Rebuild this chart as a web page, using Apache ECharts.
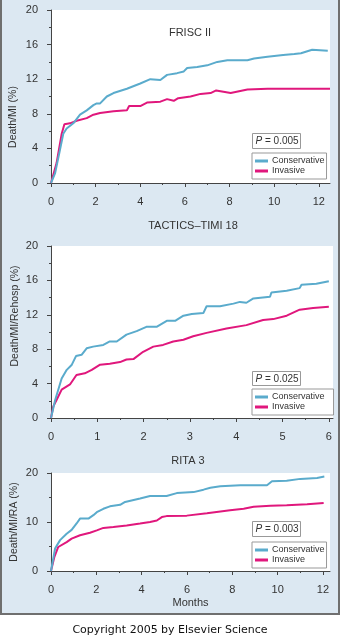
<!DOCTYPE html>
<html>
<head>
<meta charset="utf-8">
<script src="https://cdn.jsdelivr.net/npm/echarts@6/dist/echarts.min.js"></script>
<style>
html,body{margin:0;padding:0;background:#fff;}
#chart{width:341px;height:636px;}
</style>
</head>
<body>
<div id="chart"></div>
<script>
// ---- data (months, % event rate) ----
const panelTitles = ['FRISC II', 'TACTICS\u2013TIMI 18', 'RITA 3'];
const yAxisNames = ['Death/MI (%)', 'Death/MI/Rehosp (%)', 'Death/MI/RA (%)'];
const pValues = ['0.005', '0.025', '0.003'];
const seriesNames = ['Conservative', 'Invasive'];

const friscConservative = [[0,0],[0.18,1.1],[0.4,3.8],[0.55,5.7],[0.7,6.3],[1.0,6.9],[1.3,7.9],[1.6,8.4],[1.9,9.0],[2.05,9.2],[2.2,9.2],[2.5,10.0],[2.8,10.4],[3.4,10.9],[4.0,11.5],[4.45,12.0],[4.9,11.9],[5.2,12.5],[5.65,12.7],[5.95,12.9],[6.1,13.3],[6.55,13.4],[7.0,13.6],[7.45,14.0],[7.9,14.2],[8.8,14.2],[9.1,14.4],[9.7,14.6],[10.4,14.8],[10.9,14.9],[11.2,15.0],[11.7,15.4],[12.4,15.3]];
const friscInvasive = [[0,0],[0.25,2.3],[0.48,5.7],[0.6,6.8],[0.85,6.9],[1.15,7.2],[1.6,7.5],[1.9,7.9],[2.2,8.1],[2.8,8.3],[3.4,8.4],[3.5,8.9],[4.0,8.9],[4.3,9.3],[4.9,9.4],[5.2,9.7],[5.5,9.5],[5.7,9.8],[6.25,10.0],[6.7,10.3],[7.15,10.4],[7.4,10.7],[8.05,10.4],[8.8,10.8],[9.7,10.9],[10.4,10.9],[12.5,10.9]];

const tacticsConservative = [[0,0],[0.09,2.1],[0.23,4.6],[0.34,5.6],[0.45,6.2],[0.54,7.2],[0.66,7.35],[0.77,8.1],[0.91,8.3],[1.13,8.5],[1.27,8.9],[1.42,8.9],[1.63,9.7],[1.85,10.1],[2.06,10.6],[2.28,10.6],[2.5,11.3],[2.68,11.3],[2.86,11.9],[3.04,12.1],[3.29,12.2],[3.36,13.0],[3.65,13.0],[3.94,13.3],[4.08,13.5],[4.22,13.4],[4.37,13.9],[4.73,14.1],[4.76,14.6],[5.09,14.8],[5.37,15.1],[5.41,15.5],[5.73,15.6],[6.0,15.9]];
const tacticsInvasive = [[0,0],[0.05,1.35],[0.12,2.1],[0.23,3.3],[0.41,3.9],[0.55,5.0],[0.73,5.2],[0.88,5.6],[1.06,6.2],[1.27,6.3],[1.49,6.5],[1.63,6.8],[1.78,6.85],[1.99,7.7],[2.21,8.3],[2.42,8.5],[2.64,8.9],[2.86,9.1],[3.07,9.5],[3.36,9.9],[3.79,10.4],[4.22,10.8],[4.58,11.4],[4.8,11.5],[5.09,11.9],[5.37,12.6],[5.66,12.8],[6.0,12.95]];

const ritaConservative = [[0,0],[0.18,4.6],[0.4,6.3],[0.69,7.6],[0.91,8.4],[1.13,9.7],[1.28,10.7],[1.65,10.7],[1.87,11.4],[2.02,12.0],[2.31,12.7],[2.6,13.2],[3.05,13.5],[3.27,14.1],[3.93,14.8],[4.37,15.3],[5.1,15.3],[5.55,15.9],[6.29,16.1],[6.73,16.6],[7.03,17.0],[7.47,17.3],[8.35,17.5],[9.53,17.5],[9.75,18.3],[10.4,18.4],[11.0,18.8],[11.74,19.0],[12.06,19.3]];
const ritaInvasive = [[0,0],[0.15,2.9],[0.32,4.9],[0.69,5.9],[0.91,6.6],[1.28,7.3],[1.72,7.8],[2.02,8.3],[2.31,8.8],[2.75,9.0],[3.34,9.3],[3.93,9.7],[4.37,10.0],[4.67,10.3],[4.89,11.0],[5.1,11.2],[5.99,11.3],[6.88,11.8],[7.9,12.4],[8.5,12.7],[8.94,13.1],[9.68,13.3],[10.4,13.4],[11.3,13.6],[12.03,13.9]];

// tick values
const xMajorTicks12 = [0,2,4,6,8,10,12];
const xMinorTicks12 = [1,3,5,7,9,11];
const xMajorTicks6 = [0,1,2,3,4,5,6];
const xMinorTicks6 = [0.5,1.5,2.5,3.5,4.5,5.5];
const yMajorTicks20by4 = [0,4,8,12,16,20];
const yMinorTicks20by4 = [2,6,10,14,18];
const yMajorTicks20by10 = [0,10,20];
const yMinorTicks20by10 = [5,15];

// ---- layout/styles ----
const FONT = '"Liberation Sans", Arial, Helvetica, sans-serif';
const AX = '#444';
const LBL = '#333';
const C_CONS = '#5aabcc';
const C_INV = '#e0177c';

const panels = [
  {grid:{left:51, top:10, width:279, height:173}, xMax:12.5, xMaj:xMajorTicks12, xMin:xMinorTicks12, yMaj:yMajorTicks20by4, yMin:yMinorTicks20by4, data:[friscConservative, friscInvasive]},
  {grid:{left:51, top:246, width:282, height:172}, xMax:6.09, xMaj:xMajorTicks6, xMin:xMinorTicks6, yMaj:yMajorTicks20by4, yMin:yMinorTicks20by4, data:[tacticsConservative, tacticsInvasive]},
  {grid:{left:51, top:473, width:279, height:98}, xMax:12.31, xMaj:xMajorTicks12, xMin:xMinorTicks12, yMaj:yMajorTicks20by10, yMin:yMinorTicks20by10, data:[ritaConservative, ritaInvasive]}
];
const pBox = [[252, 133, 15], [252, 371, 14], [252, 521, 15]];
const legendBox = [[252, 153, 2], [252, 389, 9], [252, 542, 2]];
const titlePos = [[190, 33], [193, 226], [188, 461]];
const yNamePos = [[13, 117], [15, 316], [14.5, 522]];

const grids = [], xAxes = [], yAxes = [], series = [], legends = [], graphics = [];

graphics.push({type:'rect', z:-100, shape:{x:1, y:-2, width:338, height:616}, style:{fill:'#dce8f2', stroke:'#6f6f6f', lineWidth:2}});

panels.forEach((p, i) => {
  grids.push(Object.assign({show:true, backgroundColor:'#fff', borderWidth:0, containLabel:false, outerBoundsMode:'none'}, p.grid));
  const xMajor = {
    type:'value', gridIndex:i, position:'bottom', min:0, max:p.xMax,
    axisLine:{show:true, lineStyle:{color:AX, width:1}},
    axisTick:{show:true, customValues:p.xMaj, length:4, lineStyle:{color:AX}},
    axisLabel:{customValues:p.xMaj, margin:13, color:LBL, fontFamily:FONT, fontSize:11},
    splitLine:{show:false}
  };
  if (i === 2) {
    xMajor.name = 'Months'; xMajor.nameLocation = 'middle'; xMajor.nameGap = 26;
    xMajor.nameTextStyle = {color:LBL, fontFamily:FONT, fontSize:11};
  }
  xAxes.push(xMajor);
  xAxes.push({
    type:'value', gridIndex:i, position:'bottom', min:0, max:p.xMax,
    axisLine:{show:false}, axisLabel:{show:false}, splitLine:{show:false},
    axisTick:{show:true, customValues:p.xMin, length:2, lineStyle:{color:AX}}
  });
  yAxes.push({
    type:'value', gridIndex:i, position:'left', min:0, max:20,
    axisLine:{show:true, lineStyle:{color:AX, width:1}},
    axisTick:{show:true, customValues:p.yMaj, length:4, lineStyle:{color:AX}},
    axisLabel:{customValues:p.yMaj, margin:13, color:LBL, fontFamily:FONT, fontSize:11},
    splitLine:{show:false}
  });
  yAxes.push({
    type:'value', gridIndex:i, position:'left', min:0, max:20,
    axisLine:{show:false}, axisLabel:{show:false}, splitLine:{show:false},
    axisTick:{show:true, customValues:p.yMin, length:2, lineStyle:{color:AX}}
  });
  [C_CONS, C_INV].forEach((c, k) => {
    series.push({
      type:'line', name:seriesNames[k], xAxisIndex:2*i, yAxisIndex:2*i,
      data:p.data[k], showSymbol:false, symbol:'none', silent:true,
      color:c, lineStyle:{color:c, width:2}, z:3 - k
    });
  });
  legends.push({
    left:legendBox[i][0], top:legendBox[i][1], orient:'vertical', data:seriesNames,
    icon:'rect', itemWidth:13, itemHeight:3, itemGap:0,
    padding:[3, legendBox[i][2], 3, 3], backgroundColor:'#fff', borderColor:'#999', borderWidth:1,
    textStyle:{color:LBL, fontFamily:FONT, fontSize:9, lineHeight:10, padding:[0,0,0,-1]},
    selectedMode:false
  });
  graphics.push({
    type:'group', left:pBox[i][0], top:pBox[i][1], z:10,
    children:[
      {type:'rect', shape:{x:0, y:0, width:48, height:pBox[i][2]}, style:{fill:'#fff', stroke:'#999', lineWidth:1}},
      {type:'text', x:3, y:pBox[i][2] / 2 + 0.5, style:{
        text:'{i|P} = ' + pValues[i], textVerticalAlign:'middle', verticalAlign:'middle',
        rich:{i:{fontStyle:'italic', fontFamily:FONT, fontSize:10, fill:LBL}},
        fontFamily:FONT, fontSize:10, fill:LBL
      }}
    ]
  });
  graphics.push({
    type:'text', x:titlePos[i][0], y:titlePos[i][1], z:10,
    style:{text:panelTitles[i], fontFamily:FONT, fontSize:11, fill:LBL, textAlign:'center', textVerticalAlign:'middle'}
  });
  graphics.push({
    type:'text', x:yNamePos[i][0], y:yNamePos[i][1], rotation:Math.PI / 2, z:10,
    style:{text:yAxisNames[i], fontFamily:FONT, fontSize:10.5, fill:LBL, textAlign:'center', textVerticalAlign:'middle', align:'center', verticalAlign:'middle'}
  });
});

graphics.push({
  type:'text', x:170, y:630, z:10,
  style:{text:'Copyright 2005 by Elsevier Science', fontFamily:'"DejaVu Sans", Verdana, sans-serif', fontSize:11, fill:'#111', textAlign:'center', textVerticalAlign:'middle'}
});

const chart = echarts.init(document.getElementById('chart'), null, {renderer:'canvas'});
chart.setOption({
  backgroundColor:'#fff',
  animation:false,
  grid:grids,
  xAxis:xAxes,
  yAxis:yAxes,
  legend:legends,
  series:series,
  graphic:graphics
});
</script>
</body>
</html>
